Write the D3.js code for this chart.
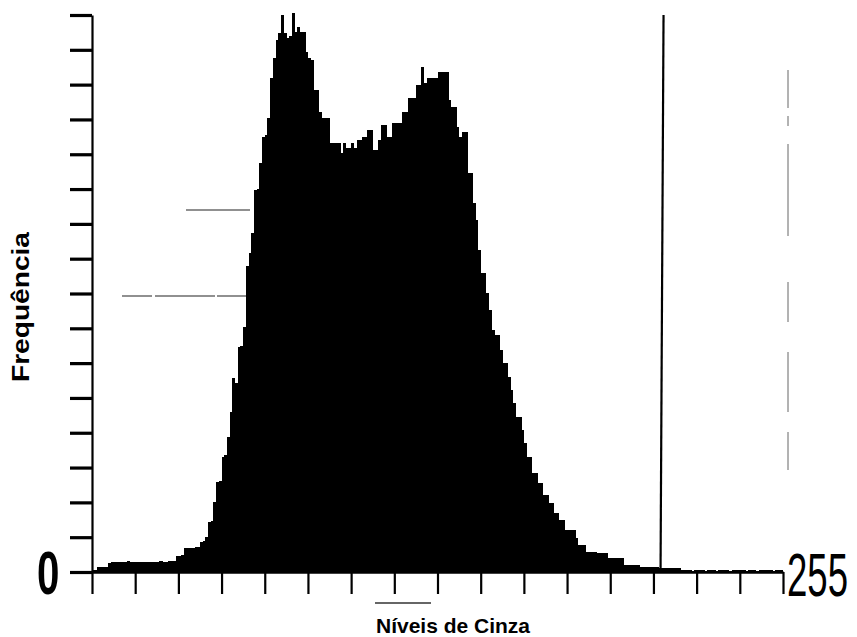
<!DOCTYPE html>
<html>
<head>
<meta charset="utf-8">
<script src="https://cdn.jsdelivr.net/npm/d3@7"></script>
<style>
body{margin:0;background:#fff;}
</style>
</head>
<body>
<div id="grafico"></div>
<script>
var width = 857,
height = 637;

// niveis de cinza 0..255 e frequencia
var niveis = d3.range(256);
var freq = [
6,6,14,14,15,14,
27,29,29,30,28,29,29,31,29,28,29,30,29,29,28,29,30,29,29,31,30,29,32,31,33,
46,46,48,69,69,70,69,71,72,86,88,100,144,146,201,259,262,330,335,388,
460,557,543,646,650,704,880,916,974,1097,1100,1175,1250,1255,1304,
1419,1477,1528,1549,1600,1549,1534,1540,1605,1551,1566,1551,1551,1494,1477,1471,
1385,1385,1322,1304,1304,1304,1233,1233,1233,1233,1204,1233,1218,1218,1233,1218,
1241,1241,1250,1250,1270,1270,1212,1212,1241,1284,1284,1250,1250,
1290,1290,1290,1290,1322,1322,1362,1362,1362,1399,1399,1451,1405,
1419,1419,1419,1419,1436,1436,1436,1436,1356,1336,1336,1278,1250,1264,1264,
1146,1146,1060,1011,925,859,859,802,753,695,681,681,638,600,600,560,523,486,
445,445,408,371,330,330,284,284,256,256,221,221,198,198,170,170,149,149,
121,121,121,121,98,78,78,78,57,57,57,57,55,55,55,55,
40,40,40,40,40,40,20,20,20,20,20,20,14,14,14,14,14,14,14,
11,11,11,11,11,11,11,11,
6,5,7,5,4,5,5,6,5,4,
5,5,5,4,5,6,5,5,4,5,
5,5,6,5,4,5,5,5,4,5,
5,6,5,5,4,5,5,5
];
var xTicks = d3.range(0, 257, 16);
var yTicks = d3.range(0, 1601, 100);
var limiar = 211;   // linha vertical de limiar
var rotuloMin = "0", rotuloMax = "255";
var tituloX = "Níveis de Cinza", tituloY = "Frequência";

var x = d3.scaleLinear().domain([0, 256]).range([92, 783]);
var y = d3.scaleLinear().domain([0, 1600]).range([572, 15]);

var svg = d3.select("#grafico").append("svg")
	.attr("width", width)
	.attr("height", height)
	.style("display", "block");

// barras
svg.append("g").selectAll("rect")
	.data(niveis)
	.enter().append("rect")
	.attr("x", function(d){ return x(d); })
	.attr("y", function(d){ return y(freq[d]); })
	.attr("width", x(1) - x(0) + 0.4)
	.attr("height", function(d){ return y(0) - y(freq[d]); })
	.attr("fill", "#000")
	.attr("shape-rendering", "crispEdges");

// eixo x
var gx = svg.append("g")
	.attr("transform", "translate(0," + y(0) + ")")
	.call(d3.axisBottom(x).tickValues(xTicks).tickSize(22).tickSizeOuter(0).tickFormat(""));
gx.select(".domain").attr("stroke", "#000").attr("stroke-width", 2.5);
gx.selectAll(".tick line").attr("stroke", "#000").attr("stroke-width", 2.2);

// eixo y
var gy = svg.append("g")
	.attr("transform", "translate(" + x(0) + ",0)")
	.call(d3.axisLeft(y).tickValues(yTicks).tickSize(22).tickSizeOuter(0).tickFormat(""));
gy.select(".domain").attr("stroke", "#000").attr("stroke-width", 2.2);
gy.selectAll(".tick line").attr("stroke", "#000").attr("stroke-width", 3.2);

// linha de limiar
svg.append("line")
	.attr("x1", x(limiar) + 2).attr("y1", y(1600))
	.attr("x2", x(limiar) - 1).attr("y2", y(0))
	.attr("stroke", "#000").attr("stroke-width", 2.2);

// marcas de digitalizacao
svg.append("line").attr("x1", 788).attr("x2", 788).attr("y1", 70).attr("y2", 470)
	.attr("stroke", "#666").attr("stroke-width", 1).attr("stroke-dasharray", "38,8,10,18,92,46,40,30,60,20");
svg.append("line").attr("x1", 186).attr("x2", 250).attr("y1", 210).attr("y2", 210)
	.attr("stroke", "#222").attr("stroke-width", 1.2);
svg.append("line").attr("x1", 122).attr("x2", 246).attr("y1", 296).attr("y2", 296)
	.attr("stroke", "#222").attr("stroke-width", 1.2).attr("stroke-dasharray", "30,3,60,2,40");

// rotulos 0 e 255 (fonte estreita, esticada na vertical)
svg.append("text")
	.attr("transform", "translate(37,594) scale(0.65,1)")
	.style("font-family", "'Liberation Sans Narrow', 'Liberation Sans', sans-serif")
	.style("font-weight", "bold").style("font-size", "62px")
	.text(rotuloMin);
svg.append("text")
	.attr("transform", "translate(787,596) scale(0.59,1)")
	.style("font-family", "'Liberation Sans Narrow', 'Liberation Sans', sans-serif")
	.style("font-size", "62px")
	.text(rotuloMax);

// titulos
svg.append("text")
	.attr("x", 453).attr("y", 633)
	.attr("text-anchor", "middle")
	.style("font-family", "'Liberation Sans', Arial, sans-serif")
	.style("font-weight", "bold").style("font-size", "21px")
	.text(tituloX);
svg.append("line").attr("x1", 375).attr("x2", 431).attr("y1", 603).attr("y2", 603)
	.attr("stroke", "#333").attr("stroke-width", 1.5);

svg.append("text")
	.attr("transform", "translate(29,307) rotate(-90)")
	.attr("text-anchor", "middle")
	.attr("textLength", 150).attr("lengthAdjust", "spacingAndGlyphs")
	.style("font-family", "'Liberation Sans', Arial, sans-serif")
	.style("font-weight", "bold").style("font-size", "23px")
	.text(tituloY);
</script>
</body>
</html>
